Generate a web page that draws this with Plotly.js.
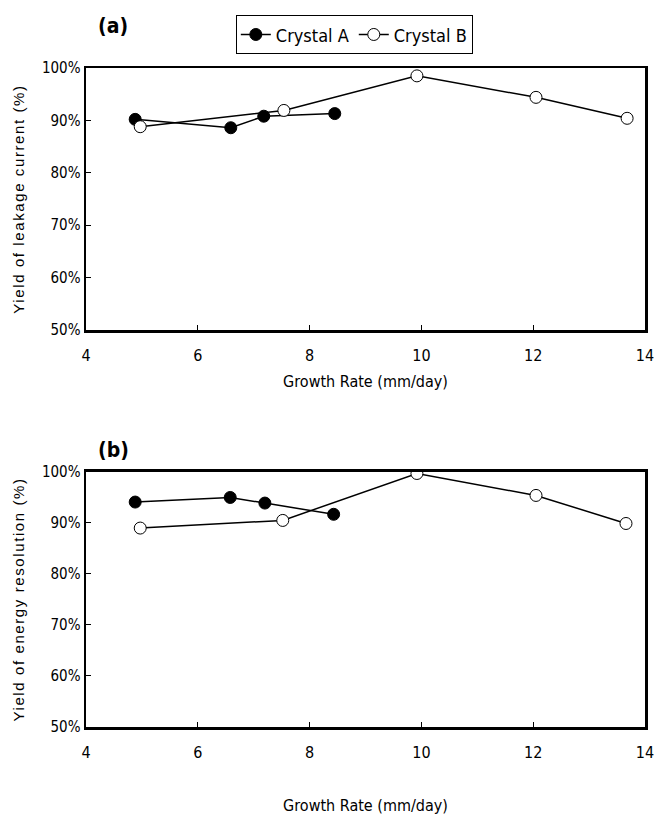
<!DOCTYPE html>
<html>
<head>
<meta charset="utf-8">
<script src="https://cdn.plot.ly/plotly-3.0.1.min.js"></script>
<style>
html,body{margin:0;padding:0;background:#fff;}
#chart{width:659px;height:822px;}
.ytitle,.y2title{letter-spacing:1.6px;}
</style>
</head>
<body>
<div id="chart"></div>
<script>
// Panel (a): yield of leakage current
const aX_A = [4.88, 6.59, 7.18, 8.45];
const aY_A = [90.2, 88.6, 90.8, 91.3];
const aX_B = [4.97, 7.54, 9.92, 12.05, 13.68];
const aY_B = [88.8, 91.9, 98.5, 94.4, 90.4];
// Panel (b): yield of energy resolution
const bX_A = [4.88, 6.58, 7.2, 8.43];
const bY_A = [94.1, 95.0, 93.9, 91.7];
const bX_B = [4.97, 7.52, 9.92, 12.05, 13.66];
const bY_B = [89.0, 90.5, 99.7, 95.4, 89.9];
const seriesNames = ['Crystal A', 'Crystal B'];
const xTickVals = [4, 6, 8, 10, 12, 14];
const yTickVals = [50, 60, 70, 80, 90, 100];
const yTickText = ['50%', '60%', '70%', '80%', '90%', '100%'];
const yTitles = ['Yield of leakage current (%)', 'Yield of energy resolution (%)'];
const xTitle = 'Growth Rate (mm/day)';
const panelLabels = ['(a)', '(b)'];

const narrow = '"DejaVu Sans Condensed", "Liberation Sans Narrow", "Liberation Sans", Arial, sans-serif';
const wide = '"Liberation Sans", Arial, sans-serif';

function tr(x, y, i, xa, ya, show) {
  const filled = i === 0;
  return {
    x: x, y: y, xaxis: xa, yaxis: ya, type: 'scatter', mode: 'lines+markers',
    name: seriesNames[i], showlegend: show, legendgroup: seriesNames[i],
    line: {color: '#000', width: 1.5},
    marker: {symbol: 'circle', size: 12, color: filled ? '#000' : '#fff', line: {color: '#000', width: 1}}
  };
}

const data = [
  tr(aX_A, aY_A, 0, 'x', 'y', true),
  tr(aX_B, aY_B, 1, 'x', 'y', true),
  tr(bX_A, bY_A, 0, 'x2', 'y2', false),
  tr(bX_B, bY_B, 1, 'x2', 'y2', false)
];

function xax(anchor, standoff) {
  return {
    anchor: anchor, range: [4, 14], tickvals: xTickVals,
    ticks: 'inside', ticklen: 5, tickcolor: '#000', tickwidth: 1,
    showline: true, linecolor: '#000', linewidth: 2.5, mirror: true,
    showgrid: false, zeroline: false, ticklabelstandoff: 9,
    tickfont: {family: narrow, size: 16, color: '#000'},
    title: {text: xTitle, font: {family: narrow, size: 16, color: '#000'}, standoff: standoff}
  };
}
function yax(anchor, domain, t) {
  return {
    anchor: anchor, domain: domain, range: [50, 100], tickvals: yTickVals, ticktext: yTickText,
    ticks: 'inside', ticklen: 5, tickcolor: '#000', tickwidth: 1,
    showline: true, linecolor: '#000', linewidth: 2.5, mirror: true,
    showgrid: false, zeroline: false, ticklabelstandoff: 0,
    tickfont: {family: narrow, size: 15, color: '#000'},
    title: {text: t, font: {family: wide, size: 15, color: '#000'}, standoff: 14}
  };
}

const layout = {
  width: 659, height: 822,
  margin: {l: 86, r: 14, t: 68, b: 95},
  paper_bgcolor: '#fff', plot_bgcolor: '#fff',
  xaxis: xax('y', 12),
  yaxis: yax('x', [0.6024, 1], yTitles[0]),
  xaxis2: xax('y2', 39),
  yaxis2: yax('x2', [0, 0.387], yTitles[1]),
  showlegend: true,
  legend: {
    orientation: 'h', x: 0.48, xanchor: 'center', y: 1.08, yanchor: 'top',
    bordercolor: '#000', borderwidth: 1, bgcolor: '#fff',
    font: {family: narrow, size: 18, color: '#000'}, itemwidth: 30, tracegroupgap: 0
  },
  annotations: [
    {text: '<b>' + panelLabels[0] + '</b>', xref: 'paper', yref: 'paper', x: 0.018, y: 1.064, xanchor: 'left', yanchor: 'middle', showarrow: false,
     font: {family: narrow, size: 21, color: '#000'}},
    {text: '<b>' + panelLabels[1] + '</b>', xref: 'paper', yref: 'paper', x: 0.018, y: 0.42, xanchor: 'left', yanchor: 'middle', showarrow: false,
     font: {family: narrow, size: 21, color: '#000'}}
  ]
};

Plotly.newPlot('chart', data, layout, {displayModeBar: false, staticPlot: true});
</script>
</body>
</html>
